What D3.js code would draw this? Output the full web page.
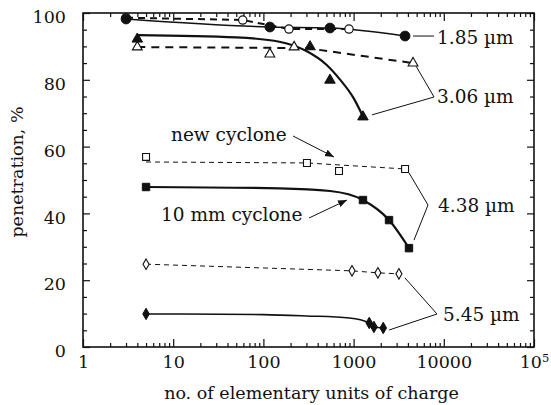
<!DOCTYPE html>
<html>
<head>
<meta charset="utf-8">
<script src="https://cdn.jsdelivr.net/npm/d3@7"></script>
<style>
  body { margin: 0; background: #fff; }
  svg text { font-family: "DejaVu Serif", "Liberation Serif", serif; fill: #111; }
</style>
</head>
<body>
<div id="graphicContainer"></div>
<script>
// values (charge units, penetration %)
var xTicksMajor = [1, 10, 100, 1000, 10000, 100000]
var xTickLabels = ["1", "10", "100", "1000", "10000", "10^5"]
var yTicksMajor = [0, 20, 40, 60, 80, 100]

// 1.85 um
var c185Filled = [3, 118, 547, 3720]
var p185Filled = [98.2, 95.8, 95.5, 93.1]
var c185Open = [3, 59, 192, 889]
var p185Open = [98.6, 97.9, 95.2, 95.2]

// 3.06 um
var c306Filled = [4, 329, 547, 1270]
var p306Filled = [92.2, 89.9, 79.9, 68.9]
var c306FilledFit = [4, 50, 150, 300, 500, 700, 1000, 1270]
var p306FilledFit = [93.4, 92.7, 91.4, 88.6, 84.5, 80.2, 74.5, 69.0]
var c306Open = [4, 118, 219, 4560]
var p306Open = [89.8, 87.7, 89.8, 85.0]
var c306OpenFit = [4, 300, 4560]
var p306OpenFit = [89.8, 89.5, 85.0]

// 4.38 um
var c438Open = [5, 304, 689, 3720]
var p438Open = [56.9, 55.1, 52.7, 53.3]
var c438OpenFit = [5, 304, 3720]
var p438OpenFit = [55.4, 55.1, 53.3]
var c438Filled = [5, 1270, 2470, 4110]
var p438Filled = [47.9, 44.0, 38.0, 29.6]
var c438FilledFit = [5, 150, 550, 1270, 2470, 4110]
var p438FilledFit = [47.9, 47.5, 46.7, 44.0, 38.0, 29.6]

// 5.45 um
var c545Open = [5, 960, 1860, 3180]
var p545Open = [24.8, 22.8, 22.2, 21.9]
var c545Filled = [5, 1490, 1680, 2130]
var p545Filled = [9.9, 7.2, 6.0, 5.7]
var c545FilledFit = [5, 100, 300, 900, 1490, 1680, 2130]
var p545FilledFit = [9.9, 9.7, 9.3, 8.7, 7.2, 6.0, 5.7]

var zip = (xs, ys) => xs.map((x, i) => ({x: x, y: ys[i]}))

function makeChart() {
    var width = 551, height = 405
    var margin = {top: 13, right: 17, bottom: 58, left: 83}

    d3.select("#graphicContainer svg").remove()

    var svg = d3.select("#graphicContainer").append("svg")
        .attr("width", width)
        .attr("height", height)

    var x = d3.scaleLog()
        .domain([1, 100000])
        .range([margin.left, width - margin.right])

    var y = d3.scaleLinear()
        .domain([0, 100])
        .range([height - margin.bottom, margin.top])

    var minorX = []
    for (var dec = 1; dec < 100000; dec *= 10) {
        for (var k = 2; k < 10; k++) minorX.push(dec * k)
    }
    var minorY = d3.range(5, 100, 5).filter(d => d % 20 != 0)

    var axisColor = "#111"

    // bottom axis
    svg.append("g")
        .attr("class", "axis")
        .attr("transform", "translate(0," + y(0) + ")")
        .call(d3.axisBottom(x).tickValues(xTicksMajor).tickSizeInner(-8).tickSizeOuter(0)
            .tickPadding(9).tickFormat((d, i) => xTickLabels[i]))
    svg.append("g")
        .attr("transform", "translate(0," + y(0) + ")")
        .call(d3.axisBottom(x).tickValues(minorX).tickSizeInner(-4).tickSizeOuter(0).tickFormat(""))

    // top axis
    svg.append("g")
        .attr("transform", "translate(0," + y(100) + ")")
        .call(d3.axisTop(x).tickValues(xTicksMajor).tickSizeInner(-8).tickSizeOuter(0).tickFormat(""))
    svg.append("g")
        .attr("transform", "translate(0," + y(100) + ")")
        .call(d3.axisTop(x).tickValues(minorX).tickSizeInner(-4).tickSizeOuter(0).tickFormat(""))

    // left axis
    svg.append("g")
        .attr("class", "axis")
        .attr("transform", "translate(" + x(1) + ",0)")
        .call(d3.axisLeft(y).tickValues(yTicksMajor).tickSizeInner(-7).tickSizeOuter(0).tickPadding(17))
    svg.append("g")
        .attr("transform", "translate(" + x(1) + ",0)")
        .call(d3.axisLeft(y).tickValues(minorY).tickSizeInner(-4).tickSizeOuter(0).tickFormat(""))

    // right axis
    svg.append("g")
        .attr("transform", "translate(" + x(100000) + ",0)")
        .call(d3.axisRight(y).tickValues(yTicksMajor).tickSizeInner(-7).tickSizeOuter(0).tickFormat(""))
    svg.append("g")
        .attr("transform", "translate(" + x(100000) + ",0)")
        .call(d3.axisRight(y).tickValues(minorY).tickSizeInner(-4).tickSizeOuter(0).tickFormat(""))

    svg.selectAll(".domain").remove()
    svg.selectAll(".tick line").attr("stroke", axisColor).attr("stroke-width", 1.2)
    svg.selectAll(".axis").attr("font-family", null)
    svg.selectAll(".axis text")
        .style("font-size", "17.5px")
        .style("font-family", "DejaVu Serif")
        .attr("fill", "#111")
    svg.selectAll(".axis").filter((d, i) => i == 1).selectAll("text").attr("dy", "0.55em")

    // 10^5 label with superscript
    svg.selectAll(".axis .tick text").filter(d => d == 100000)
        .text("10")
        .append("tspan")
        .attr("dy", "-0.55em")
        .style("font-size", "11.5px")
        .text("5")

    // frame
    svg.append("rect")
        .attr("x", x(1)).attr("y", y(100))
        .attr("width", x(100000) - x(1)).attr("height", y(0) - y(100))
        .attr("fill", "none").attr("stroke", axisColor).attr("stroke-width", 1.6)

    // axis titles
    svg.append("text")
        .attr("x", (x(1) + x(100000)) / 2 + 3)
        .attr("y", 399)
        .attr("text-anchor", "middle")
        .style("font-size", "17.5px")
        .text("no. of elementary units of charge")

    svg.append("text")
        .attr("transform", "translate(23," + 172 + ") rotate(-90)")
        .attr("text-anchor", "middle")
        .style("font-size", "17.5px")
        .text("penetration, %")

    var line = d3.line().x(d => x(d.x)).y(d => y(d.y))
    var smooth = d3.line().x(d => x(d.x)).y(d => y(d.y)).curve(d3.curveMonotoneX)

    var lines = [
        {pts: zip(c185Filled, p185Filled), w: 1.6, dash: null, gen: smooth},
        {pts: zip(c185Open, p185Open), w: 2, dash: "7,5", gen: line},
        {pts: zip(c306FilledFit, p306FilledFit), w: 2.2, dash: null, gen: smooth},
        {pts: zip(c306OpenFit, p306OpenFit), w: 2, dash: "8,6", gen: line},
        {pts: zip(c438OpenFit, p438OpenFit), w: 1, dash: "5,4", gen: line},
        {pts: zip(c438FilledFit, p438FilledFit), w: 2.2, dash: null, gen: smooth},
        {pts: zip(c545Open, p545Open), w: 1, dash: "5,4", gen: line},
        {pts: zip(c545FilledFit, p545FilledFit), w: 1.6, dash: null, gen: smooth}
    ]

    svg.append("g").selectAll("path")
        .data(lines)
        .enter()
        .append("path")
        .attr("fill", "none")
        .attr("stroke", "#111")
        .attr("stroke-width", d => d.w)
        .attr("stroke-dasharray", d => d.dash)
        .attr("d", d => d.gen(d.pts))

    // markers
    var markerSets = [
        {pts: zip(c185Open, p185Open), type: d3.symbolCircle, size: 55, fill: "#fff", sw: 1.2},
        {pts: zip(c185Filled, p185Filled), type: d3.symbolCircle, size: 75, fill: "#111", sw: 1},
        {pts: zip(c306Open, p306Open), type: d3.symbolTriangle, size: 42, fill: "#fff", sw: 1.1},
        {pts: zip(c306Filled, p306Filled), type: d3.symbolTriangle, size: 48, fill: "#111", sw: 1},
        {pts: zip(c438Open, p438Open), type: d3.symbolSquare, size: 48, fill: "#fff", sw: 1.1},
        {pts: zip(c438Filled, p438Filled), type: d3.symbolSquare, size: 55, fill: "#111", sw: 1},
        {pts: zip(c545Open, p545Open), type: d3.symbolDiamond, size: 32, fill: "#fff", sw: 1.1},
        {pts: zip(c545Filled, p545Filled), type: d3.symbolDiamond, size: 38, fill: "#111", sw: 1}
    ]

    markerSets.forEach(set => {
        svg.append("g").selectAll("path")
            .data(set.pts)
            .enter()
            .append("path")
            .attr("transform", d => "translate(" + x(d.x) + "," + y(d.y) + ")")
            .attr("d", d3.symbol().type(set.type).size(set.size))
            .attr("fill", set.fill)
            .attr("stroke", "#111")
            .attr("stroke-width", set.sw)
    })

    // labels and leader lines
    var ann = svg.append("g")
    var leader = (x1, y1, x2, y2) => ann.append("line")
        .attr("x1", x1).attr("y1", y1).attr("x2", x2).attr("y2", y2)
        .attr("stroke", "#111").attr("stroke-width", 1)

    var label = (tx, ty, t, anchor) => ann.append("text")
        .attr("x", tx).attr("y", ty)
        .attr("dy", "0.35em")
        .attr("text-anchor", anchor || "start")
        .style("font-size", "18.5px")
        .text(t)

    // 1.85
    leader(x(3720) + 8, y(93.1), 434, y(93.1))
    label(437, y(93.1) + 1, "1.85 \u00b5m")
    // 3.06
    leader(x(4560) + 3, y(85.0) + 3, 434, 97)
    leader(x(1270) + 9, y(68.9) - 2, 434, 97)
    label(437, 97, "3.06 \u00b5m")
    // 4.38
    leader(x(3720) + 4, y(53.3) + 4, 428, 205)
    leader(x(4110) + 5, y(29.6) - 8, 428, 205)
    label(438, 206, "4.38 \u00b5m")
    // 5.45
    leader(x(3180) + 6, y(21.9) + 4, 437, 314)
    leader(x(2130) + 6, y(5.7) + 2, 437, 314)
    label(443, 315, "5.45 \u00b5m")

    // arrows
    svg.append("defs").append("marker")
        .attr("id", "arrowHead")
        .attr("viewBox", "0 0 10 10")
        .attr("refX", 10).attr("refY", 5)
        .attr("markerWidth", 9).attr("markerHeight", 9)
        .attr("markerUnits", "userSpaceOnUse")
        .attr("orient", "auto")
        .append("path")
        .attr("d", "M0,1L10,5L0,9z")
        .attr("fill", "#111")

    label(171, 135, "new cyclone")
    ann.append("line")
        .attr("x1", 293).attr("y1", 136).attr("x2", 334).attr("y2", 157)
        .attr("stroke", "#111").attr("stroke-width", 1)
        .attr("marker-end", "url(#arrowHead)")

    label(161, 215, "10 mm cyclone")
    ann.append("line")
        .attr("x1", 309).attr("y1", 218).attr("x2", 347).attr("y2", 200)
        .attr("stroke", "#111").attr("stroke-width", 1)
        .attr("marker-end", "url(#arrowHead)")
}

makeChart()
</script>
</body>
</html>
